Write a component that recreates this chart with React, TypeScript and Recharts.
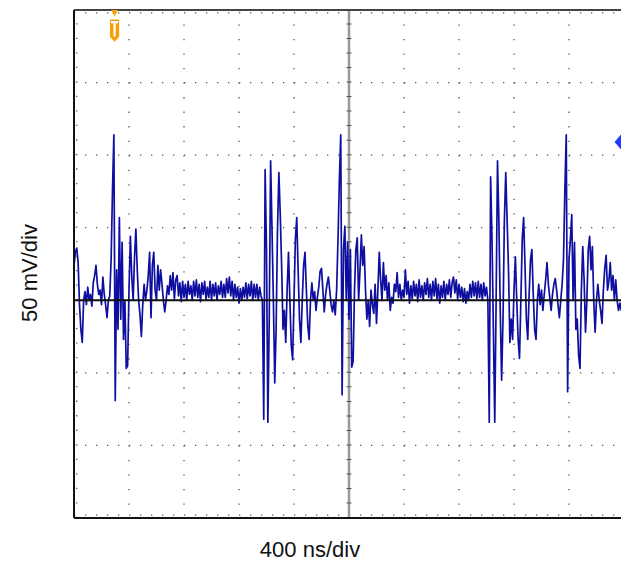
import { LineChart, Line, XAxis, YAxis, CartesianGrid, ReferenceLine, ReferenceDot } from "recharts";

// scope capture: 400 ns/div, 50 mV/div, one sample every 10 ns
const SAMPLE_NS = 10;
const X_TICKS = [0, 400, 800, 1200, 1600, 2000, 2400, 2800, 3200, 3600, 4000];
const Y_TICKS = [-150, -100, -50, 0, 50, 100, 150, 200];
const TRIGGER_TIME_NS = 295;
const TRIGGER_LEVEL_MV = 109;

// first burst (0 - 660 ns)
const BURST_1_MV = [
  24, 33, 36, 26, -3, -20, -29, 0, 6, -3, 9, 0, 4, -4, 12, 17, 24, 11, 4, 7,
  -3, 16, 4, -3, -12, 0, 3, 28, 76, 114, -69, 21, -20, 57, -13, 40, -27, 0, -47, -45,
  7, 44, 17, 0, 29, 49, 21, 0, -10, -25, -3, 11, 0, 7, 17, 33, -12, 24, 33, 7,
  0, 24, 7, 21, 11, 0, -8,
];

// quiet stretch (670 - 1370 ns)
const NOISE_1_MV = [
  0, 10, 4, 17, 7, 19, 1, 14, 17, 3, 12, -1, 13, 2, 11, 0, 13, 4, 10, 0,
  13, 3, 14, 2, 11, -1, 12, 4, 13, 1, 9, 2, 13, 0, 11, 3, 12, 0, 10, 4,
  13, 2, 11, 2, 15, 5, 16, 3, 13, 0, 11, 2, 9, -2, 8, 0, 9, 2, 12, 1,
  11, 3, 13, 0, 11, 2, 11, 0, 9, 3, 0,
];

// double burst and the following ringing (1380 - 2440 ns)
const BURST_2_MV = [
  -82, 90, 35, -84, -13, 96, 49, 0, -57, -20, 49, 88, 59, 24, -20, -7, -29, 7, 33, 0,
  -31, -41, 0, 42, 57, 21, -13, -29, 0, 24, 33, 7, -17, -27, 0, 12, 0, 6, -7, 2,
  9, 20, 22, 7, -8, 4, 11, 16, 7, -3, -8, 0, -10, 7, 42, 83, 114, -65, 35, 51,
  0, 40, -13, 35, -46, -42, 7, 35, 43, 0, 21, 45, 24, 37, 7, -13, 0, -18, 7, -3,
  -9, 11, -16, 7, 33, 14, 0, 26, 7, 17, 0, 12, -7, 2, -2, 11, 6, 19, 2, 11,
  0, 7, 2, 21, 4, 13, -2,
];

// quiet stretch (2450 - 3010 ns)
const NOISE_2_MV = [
  10, 1, 13, 3, 11, -1, 14, 2, 10, 0, 12, 4, 15, 2, 11, 0, 13, 3, 15, 1,
  11, -2, 10, 2, 13, 0, 11, 4, 14, 2, 12, 16, 5, 14, 1, 11, 2, 9, -1, 8,
  -2, 6, 0, 11, 2, 13, 3, 12, 1, 13, 2, 11, 0, 12, 3, 9, 0,
];

// double burst and ringing to the right edge (3020 - 4000 ns)
const BURST_3_MV = [
  -84, 85, 42, -20, -84, 0, 96, 55, -7, -55, -13, 55, 88, 55, 21, -29, -13, -27, 7, 30,
  0, -27, -40, 0, 42, 57, 24, -13, -27, 4, 28, 35, 4, -20, -27, 0, 11, -3, 7, -7,
  4, 14, 26, 11, 2, -7, 4, 11, 15, 7, -3, -12, 0, 11, 28, 76, 114, -63, 28, 42,
  59, 0, 40, -20, -13, -38, -47, 7, 37, 14, -22, 0, 35, 44, 21, 37, 0, -22, 0, 11,
  0, -7, -16, 7, 22, 31, 7, 13, 26, 7, 17, 0, 14, 0, -7, -2, -7, 7, 0,
];

const TRACE = [...BURST_1_MV, ...NOISE_1_MV, ...BURST_2_MV, ...NOISE_2_MV, ...BURST_3_MV].map((v, i) => ({
  t: i * SAMPLE_NS,
  v,
}));

const ORANGE = "#f5a00a";

function TriggerMarker(props: any) {
  const { cx, cy } = props;
  return (
    <g>
      <polygon points={`${cx - 3.5},${cy} ${cx + 3.5},${cy} ${cx},${cy + 6.5}`} fill={ORANGE} />
      <path
        d={`M${cx - 4.6},${cy + 9.5} H${cx + 4.6} V${cy + 26.7} L${cx},${cy + 31.7} L${cx - 4.6},${cy + 26.7} Z`}
        fill={ORANGE}
      />
      <rect x={cx - 3.6} y={cy + 11} width={7.2} height={2.3} fill="#fff" />
      <rect x={cx - 1.1} y={cy + 13} width={2.2} height={13.5} fill="#fff" />
    </g>
  );
}

function LevelMarker(props: any) {
  const { cx, cy } = props;
  return (
    <polygon
      points={`${cx - 9.5},${cy} ${cx - 3},${cy - 7.5} ${cx + 6},${cy - 7.5} ${cx + 6},${cy + 7.5} ${cx - 3},${cy + 7.5}`}
      fill="#1f3cff"
    />
  );
}

const labelStyle: React.CSSProperties = {
  position: "absolute",
  fontSize: 22,
  lineHeight: "18px",
  color: "#111",
  whiteSpace: "nowrap",
};

export default function App() {
  // fixed box so the over-wide plot (right edge sits just past the window) never adds scrollbars
  return (
    <div
      style={{
        position: "fixed",
        left: 0,
        top: 0,
        width: 621,
        height: 561,
        overflow: "hidden",
        background: "#fff",
        fontFamily: '"Liberation Sans", Arial, Helvetica, sans-serif',
      }}
    >
      <div style={{ position: "absolute", left: 8, top: 8 }}>
        <LineChart width={620} height={540} data={TRACE} margin={{ top: 2, right: 4, bottom: 30, left: 66 }}>
          <XAxis type="number" dataKey="t" domain={[0, 4000]} ticks={X_TICKS} hide />
          <YAxis type="number" domain={[-150, 200]} ticks={Y_TICKS} allowDataOverflow hide />
          <CartesianGrid horizontal={false} stroke="#555" strokeWidth={1.3} strokeDasharray="1.3 13.214" />
          <CartesianGrid vertical={false} stroke="#555" strokeWidth={1.3} strokeDasharray="1.3 9.7" />

          {/* minor ticks along the frame */}
          <ReferenceLine y={198} stroke="#555" strokeWidth={1.3} strokeDasharray="1.3 9.7" />
          <ReferenceLine y={-148} stroke="#555" strokeWidth={1.3} strokeDasharray="1.3 9.7" />
          <ReferenceLine x={20} stroke="#555" strokeWidth={1.3} strokeDasharray="1.3 13.214" />

          {/* centre time line */}
          <ReferenceLine x={2000} stroke="#9a9a9a" strokeWidth={2.5} />
          <ReferenceLine x={2000} stroke="#555" strokeWidth={5} strokeDasharray="1 13.514" />

          <Line
            type="linear"
            dataKey="v"
            stroke="#0e0ea0"
            strokeWidth={1.7}
            strokeLinejoin="round"
            dot={false}
            isAnimationActive={false}
          />

          <ReferenceLine y={0} stroke="#111" strokeWidth={2} />

          {/* frame */}
          <ReferenceLine y={200} stroke="#444" strokeWidth={2.2} />
          <ReferenceLine y={-150} stroke="#111" strokeWidth={2} />
          <ReferenceLine x={0} stroke="#111" strokeWidth={2} />

          <ReferenceDot x={TRIGGER_TIME_NS} y={200} r={0} ifOverflow="visible" shape={TriggerMarker} />
          <ReferenceDot x={4000} y={TRIGGER_LEVEL_MV} r={0} ifOverflow="visible" shape={LevelMarker} />
        </LineChart>
      </div>

      <div style={{ ...labelStyle, left: 30, top: 273, transform: "translate(-50%, -50%) rotate(-90deg)" }}>
        50 mV/div
      </div>
      <div style={{ ...labelStyle, left: 310, top: 541, transform: "translateX(-50%)" }}>400 ns/div</div>
    </div>
  );
}
